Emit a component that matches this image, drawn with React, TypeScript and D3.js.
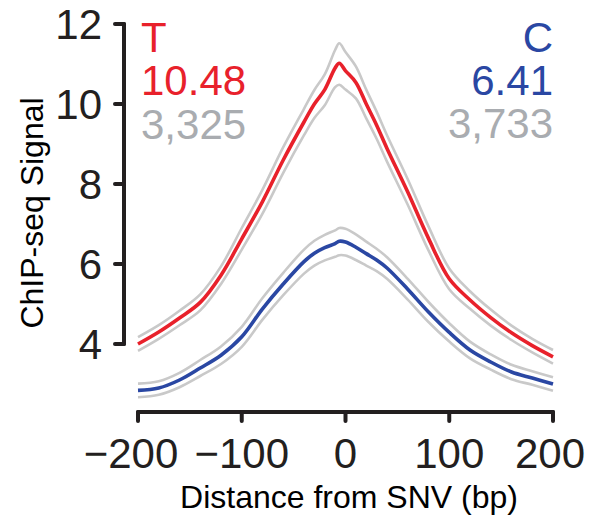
import React from "react";
import * as d3 from "d3";

// Distance from the SNV (bp) at which the signal is sampled
const distance = [-200, -180, -160, -140, -120, -100, -80, -60, -40, -30, -20, -10, -6, 0, 10, 20, 30, 40, 60, 80, 100, 120, 140, 160, 180, 200];

// T allele: mean ChIP-seq signal and its upper / lower error lines
const tMean = [4.0, 4.3, 4.65, 5.04, 5.72, 6.63, 7.56, 8.6, 9.55, 10.0, 10.36, 10.9, 11.02, 10.83, 10.54, 10.0, 9.47, 8.89, 7.8, 6.64, 5.63, 5.1, 4.66, 4.28, 3.96, 3.68];
const tUpper = [4.17, 4.47, 4.83, 5.24, 5.94, 6.9, 7.86, 8.92, 9.88, 10.35, 10.74, 11.35, 11.52, 11.3, 10.94, 10.36, 9.81, 9.22, 8.12, 6.94, 5.89, 5.32, 4.86, 4.46, 4.13, 3.85];
const tLower = [3.83, 4.13, 4.47, 4.84, 5.5, 6.36, 7.26, 8.28, 9.22, 9.65, 9.97, 10.42, 10.48, 10.36, 10.14, 9.64, 9.13, 8.56, 7.48, 6.34, 5.37, 4.88, 4.46, 4.1, 3.79, 3.51];

// C allele
const cMean = [2.84, 2.9, 3.1, 3.4, 3.72, 4.18, 4.88, 5.5, 6.06, 6.27, 6.41, 6.51, 6.57, 6.55, 6.42, 6.26, 6.1, 5.9, 5.37, 4.8, 4.29, 3.85, 3.55, 3.3, 3.15, 3.0];
const cUpper = [3.01, 3.07, 3.28, 3.6, 3.94, 4.43, 5.15, 5.78, 6.36, 6.58, 6.73, 6.84, 6.9, 6.88, 6.74, 6.56, 6.38, 6.17, 5.63, 5.05, 4.52, 4.06, 3.74, 3.48, 3.32, 3.17];
const cLower = [2.67, 2.73, 2.92, 3.2, 3.5, 3.93, 4.61, 5.22, 5.76, 5.96, 6.09, 6.18, 6.22, 6.21, 6.1, 5.96, 5.82, 5.63, 5.11, 4.55, 4.06, 3.64, 3.36, 3.12, 2.98, 2.83];

const xTicks = [-200, -100, 0, 100, 200];
const yTicks = [4, 6, 8, 10, 12];

const tLabel = ["T", "10.48", "3,325"];
const cLabel = ["C", "6.41", "3,733"];

const RED = "#e8212b";
const BLUE = "#2a47a3";
const GREY_TEXT = "#a9acb0";
const BAND = "#c9c9c9";
const INK = "#231f20";
const FONT = "'Liberation Sans', Arial, Helvetica, sans-serif";

export default function App() {
  const width = 590;
  const height = 516;

  const x = d3.scaleLinear().domain([-200, 200]).range([138, 553]);
  const y = d3.scaleLinear().domain([4, 12]).range([344, 24]);
  const axisY = 412;
  const axisX = 124;

  const line = (vals: number[]) =>
    d3
      .line<number>()
      .x((_, i) => x(distance[i]))
      .y((v) => y(v))
      .curve(d3.curveCatmullRom.alpha(0.5))(vals) as string;

  const fmtTick = (v: number) => (v < 0 ? "\u2212" + Math.abs(v) : String(v));

  return (
    <svg width={width} height={height} style={{ position: "absolute", left: 0, top: 0 }}>
      <rect width={width} height={height} fill="#fff" />

      {/* error lines */}
      {[tUpper, tLower, cUpper, cLower].map((vals, i) => (
        <path key={i} d={line(vals)} fill="none" stroke={BAND} strokeWidth={2.6} strokeLinejoin="round" />
      ))}
      {/* mean lines */}
      <path d={line(cMean)} fill="none" stroke={BLUE} strokeWidth={3.6} strokeLinejoin="round" />
      <path d={line(tMean)} fill="none" stroke={RED} strokeWidth={3.6} strokeLinejoin="round" />

      {/* y axis */}
      <line x1={axisX} x2={axisX} y1={y(12)} y2={y(4)} stroke={INK} strokeWidth={4} strokeLinecap="round" />
      {yTicks.map((t) => (
        <g key={t}>
          <line x1={axisX - 9} x2={axisX} y1={y(t)} y2={y(t)} stroke={INK} strokeWidth={4} strokeLinecap="round" />
          <text
            x={102}
            y={y(t)}
            dy="0.36em"
            textAnchor="end"
            fontFamily={FONT}
            fontSize={42}
            fill={INK}
          >
            {t}
          </text>
        </g>
      ))}
      <text
        transform={`translate(43,213) rotate(-90)`}
        textAnchor="middle"
        fontFamily={FONT}
        fontSize={32}
        fill="#000"
      >
        ChIP-seq Signal
      </text>

      {/* x axis */}
      <line x1={x(-200)} x2={x(200)} y1={axisY} y2={axisY} stroke={INK} strokeWidth={4} strokeLinecap="round" />
      {xTicks.map((t) => (
        <g key={t}>
          <line x1={x(t)} x2={x(t)} y1={axisY} y2={axisY + 9} stroke={INK} strokeWidth={4} strokeLinecap="round" />
          <text
            x={x(t) + (t === -200 ? -7 : t === 200 ? -3 : 0)}
            y={468}
            textAnchor="middle"
            fontFamily={FONT}
            fontSize={42}
            fill={INK}
          >
            {fmtTick(t)}
          </text>
        </g>
      ))}
      <text x={349} y={508} textAnchor="middle" fontFamily={FONT} fontSize={32} fill="#000">
        Distance from SNV (bp)
      </text>

      {/* allele annotations */}
      {tLabel.map((s, i) => (
        <text
          key={s}
          x={141}
          y={[52, 95, 139][i]}
          fontFamily={FONT}
          fontSize={42}
          fill={i === 2 ? GREY_TEXT : RED}
        >
          {s}
        </text>
      ))}
      {cLabel.map((s, i) => (
        <text
          key={s}
          x={553}
          y={[52, 95, 138][i]}
          textAnchor="end"
          fontFamily={FONT}
          fontSize={42}
          fill={i === 2 ? GREY_TEXT : BLUE}
        >
          {s}
        </text>
      ))}
    </svg>
  );
}
